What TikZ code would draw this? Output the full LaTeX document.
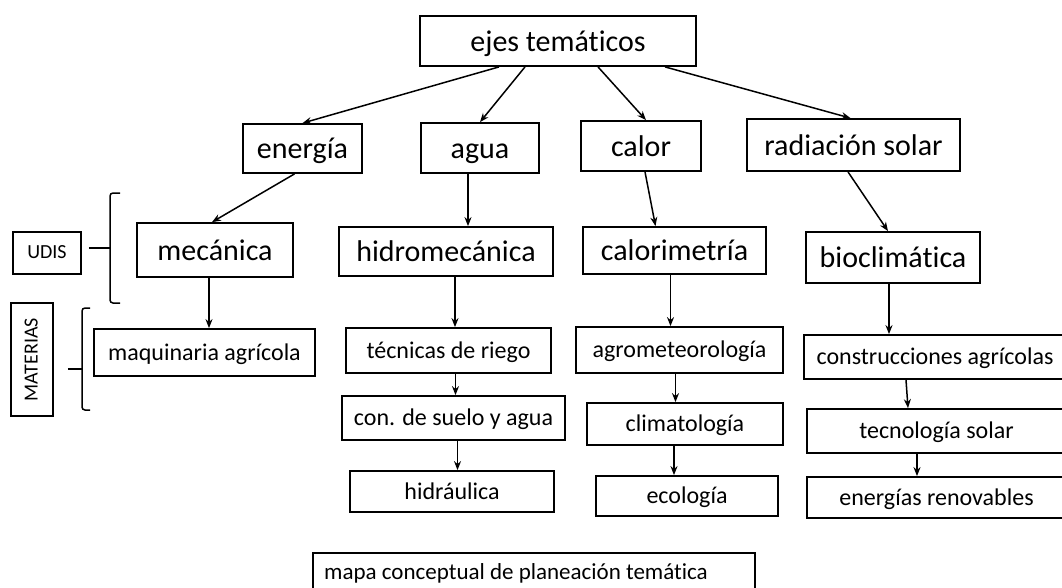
\documentclass[tikz,border=0pt]{standalone}
\usepackage{fontspec}
\setmainfont{Carlito}[Ligatures=NoCommon]
\usetikzlibrary{arrows.meta}

\begin{document}
\begin{tikzpicture}[x=1pt, y=-1pt, >={Stealth[length=9pt,width=7pt]},
  box/.style={draw=black, line width=1.8pt, inner sep=0pt, text depth=0pt},
  big/.style={box, font=\fontsize{30}{34}\selectfont, text height=20pt},
  small/.style={box, font=\fontsize{24}{28}\selectfont, text height=15pt},
  tiny/.style={box, font=\fontsize{20}{24}\selectfont, text height=11pt},
  link/.style={->, line width=1.5pt},
  brace/.style={line width=1.5pt, rounded corners=3pt}]
\useasboundingbox (0,0) rectangle (1062,587);
\clip (0,0) rectangle (1062,587);

\node[big, minimum width=276pt, minimum height=50pt] (ejes) at (558,41) {ejes temáticos};
\node[big, minimum width=119pt, minimum height=49pt] (energia) at (302.5,148.5) {energía};
\node[big, minimum width=118pt, minimum height=50pt] (agua) at (480,148) {agua};
\node[big, minimum width=120pt, minimum height=50pt] (calor) at (641,146) {calor};
\node[big, minimum width=213pt, minimum height=52pt] (radiacion) at (853.5,145) {radiación solar};

\node[big, minimum width=156pt, minimum height=54pt] (mecanica) at (215,250) {mecánica};
\node[big, minimum width=214pt, minimum height=49pt] (hidromec) at (446,251.5) {hidromecánica};
\node[big, minimum width=183pt, minimum height=47pt] (calorim) at (674.5,250.5) {calorimetría};
\node[big, minimum width=174pt, minimum height=51pt] (bioclim) at (893,257.5) {bioclimática};

\node[small, minimum width=221pt, minimum height=47pt] (maquinaria) at (204.5,352.5) {maquinaria agrícola};
\node[small, minimum width=205pt, minimum height=45pt] (tecnicas) at (448.5,350.5) {técnicas de riego};
\node[small, minimum width=223pt, minimum height=44pt] (conserv) at (453.5,418) {con. de suelo y agua};
\node[small, minimum width=204pt, minimum height=41pt] (hidraulica) at (452,491.5) {hidráulica};
\node[small, minimum width=207pt, minimum height=46pt] (agromet) at (679.5,350) {agrometeorología};
\node[small, minimum width=196pt, minimum height=42pt] (climat) at (685,424) {climatología};
\node[small, minimum width=182pt, minimum height=40pt] (ecologia) at (687,496) {ecología};
\node[small, minimum width=262pt, minimum height=44pt] (construc) at (935,357) {construcciones agrícolas};
\node[small, minimum width=259pt, minimum height=44pt] (tecsolar) at (936.5,431) {tecnología solar};
\node[small, minimum width=259pt, minimum height=41pt] (renov) at (936.5,497.5) {energías renovables};

\node[tiny, minimum width=68pt, minimum height=42pt] (udis) at (47,253) {UDIS};
\node[tiny, minimum width=113pt, minimum height=42pt, rotate=90] (materias) at (32,359.5) {MATERIAS};

\node[small, anchor=north west, minimum width=442pt, minimum height=44pt] (mapa) at (312,552) {};
\node[anchor=base west, inner sep=0pt, font=\fontsize{23}{27}\selectfont] (mapatxt) at ([xshift=12pt, yshift=-27pt]mapa.north west) {mapa conceptual de planeación temática};

% ejes -> columnas
\draw[link] ([xshift=-59pt]ejes.south) -- (energia.north);
\draw[link] ([xshift=-33pt]ejes.south) -- (agua.north);
\draw[link] ([xshift=40pt]ejes.south) -- ([xshift=5pt]calor.north);
\draw[link] ([xshift=107pt]ejes.south) -- ([xshift=-3pt]radiacion.north);

\draw[link] ([xshift=-8pt]energia.south) -- ([xshift=-3pt]mecanica.north);
\draw[link] ([xshift=-12pt]agua.south) -- ([xshift=-12pt]agua.south |- hidromec.north);
\draw[link] ([xshift=4pt]calor.south) -- ([xshift=-19pt]calorim.north);
\draw[link] ([xshift=-5.5pt]radiacion.south) -- ([xshift=-5pt]bioclim.north);

\draw[link] ([xshift=-6pt]mecanica.south) -- ([xshift=-6pt]mecanica.south |- maquinaria.north);
\draw[link] ([xshift=9pt]hidromec.south) -- ([xshift=9pt]hidromec.south |- tecnicas.north);
\draw[link] ([xshift=7pt]tecnicas.south) -- ([xshift=7pt]tecnicas.south |- conserv.north);
\draw[link] ([xshift=4pt]conserv.south) -- ([xshift=4pt]conserv.south |- hidraulica.north);
\draw[link] ([xshift=-4pt]calorim.south) -- ([xshift=-4pt]calorim.south |- agromet.north);
\draw[link] ([xshift=-4pt]agromet.south) -- ([xshift=-4pt]agromet.south |- climat.north);
\draw[link] ([xshift=-11pt]climat.south) -- ([xshift=-11pt]climat.south |- ecologia.north);
\draw[link] ([xshift=-4pt]bioclim.south) -- ([xshift=-4pt]bioclim.south |- construc.north);
\draw[link] ([xshift=-29pt]construc.south) -- ([xshift=-28.5pt]tecsolar.north);
\draw[link] ([xshift=-19.5pt]tecsolar.south) -- ([xshift=-19.5pt]renov.north);

% llaves
\coordinate (udisbrace) at (110,248);
\coordinate (matbrace) at (82,369);
\draw[brace] (120,193) -- (110,193) -- (110,303) -- (120,303);
\draw[brace] (90,308) -- (82,308) -- (82,410) -- (90,410);
\draw[line width=1.5pt, shorten <=7pt] (udis.east |- udisbrace) -- (udisbrace);
\draw[line width=1.5pt, shorten <=14pt] (materias.south |- matbrace) -- (matbrace);
\end{tikzpicture}
\end{document}
